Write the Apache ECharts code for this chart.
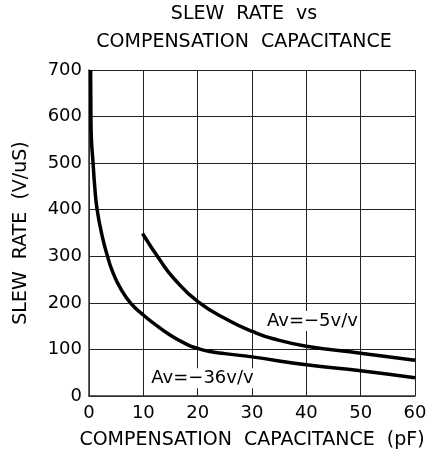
<!DOCTYPE html>
<html><head><meta charset="utf-8">
<script src="https://cdn.jsdelivr.net/npm/echarts@6/dist/echarts.min.js"></script>
<style>html,body{margin:0;padding:0;background:#fff}#c{width:441px;height:466px}</style>
</head><body><div id="c"></div>
<script>
var xTicks = [0, 10, 20, 30, 40, 50, 60];
var yTicks = [0, 100, 200, 300, 400, 500, 600, 700];
var capA36 = [0.3, 0.35, 0.45, 0.75, 1.05, 1.5, 2.45, 3.4, 4.3, 5.7, 7.7, 10, 11.8, 14.9, 18, 20, 22, 25, 30, 40, 50, 60];
var srA36  = [700, 600, 550, 500, 450, 400, 342, 300, 268, 233, 199, 174, 157, 131, 111, 102, 96, 91, 84, 67, 54, 39];
var capA5 = [9.85, 13.05, 15.5, 20.1, 25.9, 30.2, 33.9, 40, 50, 60];
var srA5  = [349, 292, 254, 202, 161, 138, 123, 107, 92, 77];
var labelA5 = 'Av=\u22125v/v';
var labelA36 = 'Av=\u221236v/v';
var labelA5Pos = [32.4, 161];
var labelA36Pos = [11.1, 38];

function pairs(xs, ys) { return xs.map(function (x, i) { return [x, ys[i]]; }); }
var F = 'DejaVu Sans';
var chart = echarts.init(document.getElementById('c'), null, {renderer: 'canvas'});
function mk(pos, txt) {
  return {
    symbol: 'circle', symbolSize: 0, silent: true,
    data: [{coord: pos, value: txt}],
    label: {show: true, position: 'right', distance: 0, formatter: txt,
      fontFamily: F, fontSize: 18, color: '#000', backgroundColor: '#fff', padding: [1, 2, 1, 2]}
  };
}
chart.setOption({
  animation: false,
  backgroundColor: '#fff',
  title: {
    text: 'SLEW  RATE  vs\nCOMPENSATION  CAPACITANCE',
    left: 244, textAlign: 'center', top: 0, padding: 0,
    textStyle: {fontFamily: F, fontSize: 19, fontWeight: 'normal', color: '#000', lineHeight: 28}
  },
  grid: {left: 89, right: 26, top: 70, bottom: 70},
  xAxis: {
    type: 'value', min: xTicks[0], max: xTicks[xTicks.length - 1], interval: 10,
    name: 'COMPENSATION  CAPACITANCE  (pF)', nameLocation: 'middle', nameGap: 35,
    nameTextStyle: {fontFamily: F, fontSize: 19, color: '#000'},
    axisLine: {lineStyle: {color: '#333', width: 1.5}},
    axisTick: {show: false},
    axisLabel: {fontFamily: F, fontSize: 18, color: '#000', margin: 8},
    splitLine: {show: true, lineStyle: {color: '#222', width: 1}}
  },
  yAxis: {
    type: 'value', min: yTicks[0], max: yTicks[yTicks.length - 1], interval: 100,
    name: 'SLEW  RATE  (V/uS)', nameLocation: 'middle', nameGap: 58,
    nameTextStyle: {fontFamily: F, fontSize: 19, color: '#000'},
    axisLine: {show: true, lineStyle: {color: '#333', width: 1.5}},
    axisTick: {show: false},
    axisLabel: {fontFamily: F, fontSize: 18, color: '#000', margin: 7},
    splitLine: {show: true, lineStyle: {color: '#222', width: 1}}
  },
  series: [
    {type: 'line', data: pairs(capA36, srA36), smooth: 0.5, symbol: 'none',
      lineStyle: {color: '#000', width: 3.5}, z: 3, markPoint: mk(labelA36Pos, labelA36)},
    {type: 'line', data: pairs(capA5, srA5), smooth: 0.5, symbol: 'none',
      lineStyle: {color: '#000', width: 3.5}, z: 3, markPoint: mk(labelA5Pos, labelA5)}
  ]
});
</script></body></html>
